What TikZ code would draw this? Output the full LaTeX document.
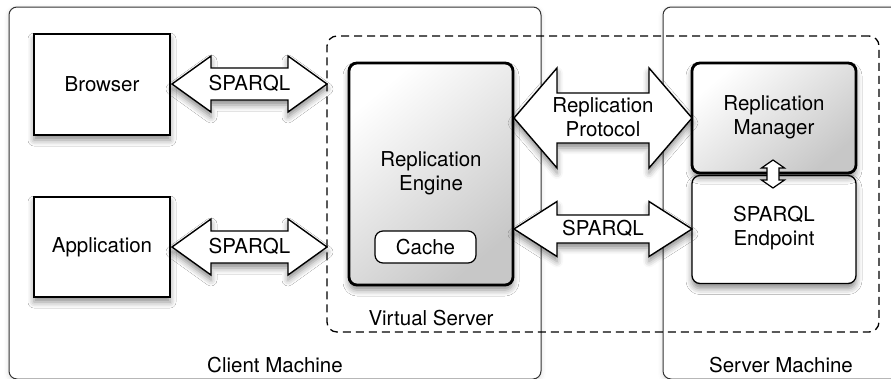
\documentclass[tikz,border=0pt]{standalone}
\usepackage{fontspec}
\setmainfont{TeX Gyre Heros}
\usetikzlibrary{shadows.blur}
\newcommand\hblockarrow[7]{% style, xa, xb, yc, H, h, L
  \path[#1] (#2,#4) -- (#2+#7,#4-#5) -- (#2+#7,#4-#6) -- (#3-#7,#4-#6) -- (#3-#7,#4-#5)
    -- (#3,#4) -- (#3-#7,#4+#5) -- (#3-#7,#4+#6) -- (#2+#7,#4+#6) -- (#2+#7,#4+#5) -- cycle;}
\newcommand\vblockarrow[7]{% style, cx, ya, yb, W, w, L
  \path[#1] (#2,#3) -- (#2+#5,#3+#7) -- (#2+#6,#3+#7) -- (#2+#6,#4-#7) -- (#2+#5,#4-#7)
    -- (#2,#4) -- (#2-#5,#4-#7) -- (#2-#6,#4-#7) -- (#2-#6,#3+#7) -- (#2-#5,#3+#7) -- cycle;}
\begin{document}
\begin{tikzpicture}[x=1pt,y=-1pt,
  lbl/.style={font=\fontsize{20.5}{24}\selectfont, align=center, inner sep=0pt},
  shad/.style={blur shadow={shadow xshift=0pt, shadow yshift=-5pt, shadow blur radius=6pt, shadow opacity=45}},
  softshad/.style={blur shadow={shadow xshift=0pt, shadow yshift=-2pt, shadow blur radius=5pt, shadow opacity=15}},
  machine/.style={draw=black!80, line width=1pt, rounded corners=8pt, fill=white, softshad, inner sep=0pt},
  virtual/.style={draw=black, line width=1.3pt, dash pattern=on 8pt off 5pt, rounded corners=10pt, inner sep=0pt},
  plainbox/.style={draw=black, line width=1.6pt, fill=white, shad, lbl},
  thickbox/.style={draw=black, line width=2.8pt, rounded corners=8pt, top color=white, bottom color=black!22, shading angle=40, shad, lbl},
  thinbox/.style={draw=black, line width=1.3pt, rounded corners=8pt, fill=white, shad, lbl},
  cachebox/.style={draw=black, line width=1.2pt, rounded corners=8pt, fill=white, lbl},
  blockarrow/.style={draw=black, line width=1.4pt, fill=white, line join=miter, shad},
]
\useasboundingbox (0,0) rectangle (891,378);
\clip (0,0) rectangle (891,378);
% machines
\node[machine, minimum width=532pt, minimum height=372pt] (client) at (275,193) {};
\node[machine, minimum width=260pt, minimum height=372pt] (server) at (793,193) {};
\node[lbl] (clientlbl) at (275,365) {Client Machine};
\node[lbl] (serverlbl) at (781,365) {Server Machine};
% virtual server
\node[virtual, minimum width=552pt, minimum height=296pt] (virtual) at (603,184) {};
\node[lbl] (virtuallbl) at (431,318) {Virtual Server};
% client boxes
\node[plainbox, minimum width=136pt, minimum height=101pt] (browser) at (102,84.5) {Browser};
\node[plainbox, minimum width=136pt, minimum height=100pt] (application) at (102,247) {Application};
% replication engine
\node[thickbox, minimum width=164pt, minimum height=222pt] (engine) at (431,174) {};
\node[lbl] (enginelbl) at (431,173) {Replication\\Engine};
\node[cachebox, minimum width=101pt, minimum height=32pt] (cache) at (425.5,247) {Cache};
% server boxes
\node[thinbox, minimum width=164pt, minimum height=108pt] (endpoint) at (774,229.5) {};
\node[lbl] (endpointlbl) at (774,228) {SPARQL\\Endpoint};
\node[thickbox, minimum width=164pt, minimum height=110pt] (manager) at (774,118) {};
\node[lbl] (managerlbl) at (774,117) {Replication\\Manager};
% block arrows
\hblockarrow{blockarrow}{172}{327}{84}{28}{16}{39}
\node[lbl] (sparqlA) at (249.5,83) {SPARQL};
\hblockarrow{blockarrow}{172}{327}{247}{28}{16}{39}
\node[lbl] (sparqlB) at (249.5,246) {SPARQL};
\hblockarrow{blockarrow}{514}{692}{118}{50}{25}{43}
\node[lbl] (protocol) at (603,117) {Replication\\Protocol};
\hblockarrow{blockarrow}{514}{692}{229}{27.5}{14}{43}
\node[lbl] (sparqlC) at (603,228) {SPARQL};
\vblockarrow{draw=black, line width=1.2pt, fill=white, line join=miter}{773}{160}{188}{11.5}{6}{8}
\end{tikzpicture}
\end{document}
